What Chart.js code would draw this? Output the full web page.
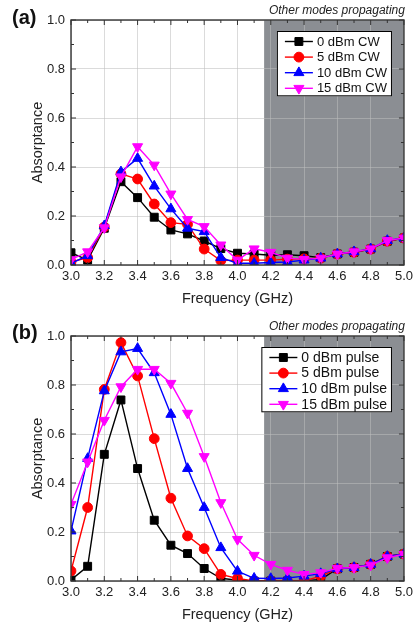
<!DOCTYPE html>
<html>
<head>
<meta charset="utf-8">
<script src="https://cdn.jsdelivr.net/npm/chart.js@4.4.0/dist/chart.umd.min.js"></script>
<style>
  html, body { margin: 0; padding: 0; background: #fff; overflow: hidden; }
  .panel { position: absolute; left: 0; width: 417px; height: 313px; }
</style>
</head>
<body>
<div class="panel" style="top:0"><canvas id="chartA" width="417" height="313"></canvas></div>
<div class="panel" style="top:316px"><canvas id="chartB" width="417" height="313"></canvas></div>
<script>
/* ---------- data ---------- */
const freqs = [3.0, 3.1, 3.2, 3.3, 3.4, 3.5, 3.6, 3.7, 3.8, 3.9, 4.0,
               4.1, 4.2, 4.3, 4.4, 4.5, 4.6, 4.7, 4.8, 4.9, 5.0];

const xTicks = [3.0, 3.2, 3.4, 3.6, 3.8, 4.0, 4.2, 4.4, 4.6, 4.8, 5.0];
const yTicks = [0.0, 0.2, 0.4, 0.6, 0.8, 1.0];
const shadeFrom = 4.16;   // "Other modes propagating" region

// (a) CW
const cwLabels = ["0 dBm CW", "5 dBm CW", "10 dBm CW", "15 dBm CW"];
const cw0  = [0.05, 0.02, 0.15, 0.34, 0.275, 0.195, 0.143, 0.127, 0.098, 0.067, 0.048, 0.045, 0.04, 0.042, 0.038, 0.03, 0.045, 0.052, 0.065, 0.097, 0.11];
const cw5  = [0.012, 0.03, 0.155, 0.372, 0.351, 0.249, 0.173, 0.166, 0.065, 0.018, 0.02, 0.02, 0.02, 0.024, 0.025, 0.028, 0.045, 0.052, 0.065, 0.097, 0.11];
const cw10 = [0.007, 0.038, 0.16, 0.38, 0.435, 0.322, 0.229, 0.15, 0.136, 0.03, 0.007, 0.007, 0.01, 0.012, 0.02, 0.028, 0.045, 0.054, 0.066, 0.1, 0.11];
const cw15 = [0.022, 0.054, 0.152, 0.36, 0.483, 0.408, 0.29, 0.186, 0.157, 0.082, 0.02, 0.066, 0.052, 0.028, 0.023, 0.028, 0.045, 0.054, 0.066, 0.1, 0.11];

// (b) pulse
const pulseLabels = ["0 dBm pulse", "5 dBm pulse", "10 dBm pulse", "15 dBm pulse"];
const pulse0  = [0.004, 0.06, 0.517, 0.739, 0.459, 0.248, 0.146, 0.112, 0.051, 0.011, 0.003, 0.0, 0.0, 0.0, 0.0, 0.006, 0.05, 0.055, 0.068, 0.1, 0.11];
const pulse5  = [0.041, 0.30, 0.782, 0.973, 0.837, 0.581, 0.338, 0.184, 0.132, 0.027, 0.01, 0.0, 0.0, 0.0, 0.0, 0.02, 0.05, 0.055, 0.068, 0.1, 0.11];
const pulse10 = [0.204, 0.50, 0.776, 0.935, 0.949, 0.85, 0.68, 0.459, 0.30, 0.136, 0.04, 0.011, 0.01, 0.012, 0.02, 0.03, 0.05, 0.055, 0.068, 0.1, 0.11];
const pulse15 = [0.313, 0.486, 0.656, 0.793, 0.864, 0.864, 0.807, 0.685, 0.508, 0.32, 0.17, 0.105, 0.068, 0.044, 0.027, 0.034, 0.052, 0.055, 0.065, 0.095, 0.109];

/* ---------- styling ---------- */
const seriesColors = ["#000000", "#ff0000", "#0000ff", "#ff00ff"];
const seriesStyles = ["rect", "circle", "triangle", "triangle"];
const seriesRot    = [0, 0, 0, 180];
const seriesRadius = [5.6, 4.9, 5.8, 5.8];
const FONT = "'Liberation Sans', Arial, sans-serif";

function drawMarker(ctx, i, x, y) {
    ctx.save();
    ctx.fillStyle = seriesColors[i];
    ctx.strokeStyle = seriesColors[i];
    ctx.lineWidth = 1;
    Chart.helpers.drawPoint(ctx, {
        pointStyle: seriesStyles[i], rotation: seriesRot[i],
        radius: seriesRadius[i], borderWidth: 1
    }, x, y);
    ctx.restore();
}

// shading, frame, inward ticks, legend and panel texts
const decorPlugin = {
    id: "decor",
    beforeDraw(chart, args, opts) {
        const { ctx, chartArea: a, scales } = chart;
        const x0 = scales.x.getPixelForValue(shadeFrom);
        ctx.save();
        ctx.fillStyle = "#8b8e93";
        ctx.fillRect(x0, a.top, a.right - x0, a.bottom - a.top);
        ctx.restore();
    },
    afterDraw(chart, args, opts) {
        const { ctx, chartArea: a, scales } = chart;
        ctx.save();
        // frame
        ctx.strokeStyle = "#333";
        ctx.lineWidth = 1.4;
        ctx.strokeRect(a.left, a.top, a.right - a.left, a.bottom - a.top);
        // inward ticks
        ctx.lineWidth = 1;
        ctx.beginPath();
        for (let k = 0; k <= 20; k++) {
            const v = 3 + k * 0.1;
            const len = k % 2 === 0 ? 5 : 3;
            const px = scales.x.getPixelForValue(v);
            ctx.moveTo(px, a.bottom); ctx.lineTo(px, a.bottom - len);
            ctx.moveTo(px, a.top); ctx.lineTo(px, a.top + len);
        }
        for (let k = 0; k <= 10; k++) {
            const v = k * 0.1;
            const len = k % 2 === 0 ? 5 : 3;
            const py = scales.y.getPixelForValue(v);
            ctx.moveTo(a.left, py); ctx.lineTo(a.left + len, py);
            ctx.moveTo(a.right, py); ctx.lineTo(a.right - len, py);
        }
        ctx.stroke();

        // legend
        const labels = opts.labels;
        ctx.font = opts.legendSize + "px " + FONT;
        let tw = 0;
        labels.forEach(t => { tw = Math.max(tw, ctx.measureText(t).width); });
        const lineLen = 28, padL = 8, gap = 4, padR = 5;
        const right = a.right - 12;
        const left = right - (padL + lineLen + gap + tw + padR);
        const top = a.top + 11, rowH = 15.6, first = a.top + 21.5;
        const bottom = first + rowH * 3 + 8;
        ctx.fillStyle = "#fff";
        ctx.fillRect(left, top, right - left, bottom - top);
        ctx.strokeStyle = "#000";
        ctx.lineWidth = 1;
        ctx.strokeRect(left + 0.5, top + 0.5, right - left - 1, bottom - top - 1);
        labels.forEach((t, i) => {
            const y = first + i * rowH;
            ctx.strokeStyle = seriesColors[i];
            ctx.lineWidth = 1.4;
            ctx.beginPath();
            ctx.moveTo(left + padL, y); ctx.lineTo(left + padL + lineLen, y);
            ctx.stroke();
            drawMarker(ctx, i, left + padL + lineLen / 2, y);
            ctx.fillStyle = "#111";
            ctx.textBaseline = "middle";
            ctx.textAlign = "left";
            ctx.font = opts.legendSize + "px " + FONT;
            ctx.fillText(t, left + padL + lineLen + gap, y + 0.5);
        });

        // panel tag and note
        ctx.fillStyle = "#111";
        ctx.textBaseline = "middle";
        ctx.textAlign = "left";
        ctx.font = "bold 20px " + FONT;
        ctx.fillText(opts.tag, 12, opts.tagY);
        ctx.textAlign = "right";
        ctx.font = "italic 12px " + FONT;
        ctx.fillStyle = "#222";
        ctx.fillText("Other modes propagating", a.right + 1, 11);
        ctx.restore();
    }
};

function makePanel(id, tag, tagY, labels, valueSets, legendSize) {
    const datasets = valueSets.map((vals, i) => ({
        label: labels[i],
        data: freqs.map((f, j) => ({ x: f, y: vals[j] })),
        borderColor: seriesColors[i],
        backgroundColor: seriesColors[i],
        borderWidth: 1.4,
        pointStyle: seriesStyles[i],
        pointRotation: seriesRot[i],
        pointRadius: seriesRadius[i],
        pointBorderWidth: 1,
        tension: 0,
        order: 4 - i
    }));
    const gridColor = "rgba(190,190,190,0.55)";
    return new Chart(document.getElementById(id), {
        type: "line",
        data: { datasets },
        plugins: [decorPlugin],
        options: {
            responsive: false,
            animation: false,
            devicePixelRatio: 1,
            layout: { padding: { top: 20, right: 11, left: 0, bottom: 0 } },
            plugins: {
                legend: { display: false },
                tooltip: { enabled: false },
                decor: { tag, tagY, labels, legendSize }
            },
            scales: {
                x: {
                    type: "linear", min: 3, max: 5,
                    afterBuildTicks: sc => { sc.ticks = xTicks.map(v => ({ value: v })); },
                    afterFit: sc => { sc.height = 48; },
                    ticks: {
                        callback: v => v.toFixed(1), autoSkip: false, maxRotation: 0,
                        padding: 4, color: "#222", font: { family: FONT, size: 13 }
                    },
                    grid: { color: gridColor, drawTicks: false, lineWidth: 1 },
                    border: { display: false },
                    title: {
                        display: true, text: "Frequency (GHz)", color: "#222",
                        font: { family: FONT, size: 14.5 }, padding: { top: 0, bottom: 5 }
                    }
                },
                y: {
                    min: 0, max: 1,
                    afterBuildTicks: sc => { sc.ticks = yTicks.map(v => ({ value: v })); },
                    afterFit: sc => { sc.width = 71; },
                    ticks: {
                        callback: v => v.toFixed(1), padding: 6, color: "#222",
                        font: { family: FONT, size: 13 }
                    },
                    grid: { color: gridColor, drawTicks: false, lineWidth: 1 },
                    border: { display: false },
                    title: {
                        display: true, text: "Absorptance", color: "#222",
                        font: { family: FONT, size: 14.5 }, padding: { top: 29, bottom: 0 }
                    }
                }
            }
        }
    });
}

makePanel("chartA", "(a)", 18, cwLabels, [cw0, cw5, cw10, cw15], 13);
makePanel("chartB", "(b)", 17, pulseLabels, [pulse0, pulse5, pulse10, pulse15], 14);
</script>
</body>
</html>
